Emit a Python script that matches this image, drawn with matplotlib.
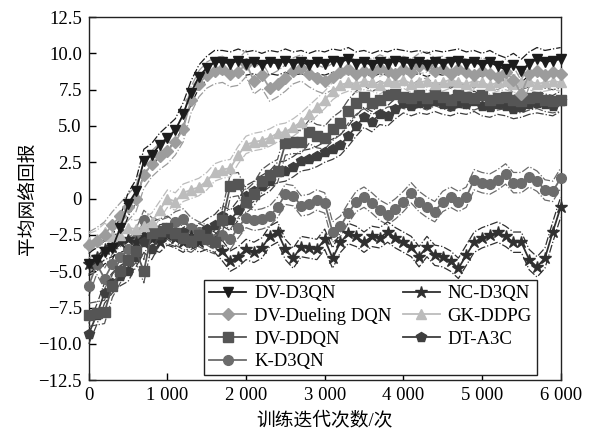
import numpy as np
import matplotlib
matplotlib.use("Agg")
import matplotlib.pyplot as plt

plt.rcParams['font.family'] = ['Liberation Serif', 'Noto Sans CJK SC']
plt.rcParams['axes.unicode_minus'] = True

iterations = list(range(0, 6001, 100))

dv_d3qn = [-4.5, -4.2, -3.7, -3.4, -2.0, -0.4, 0.5, 2.6, 3.0, 3.7,
           4.2, 4.7, 5.8, 7.3, 8.4, 9.0, 9.4, 9.4, 9.3, 9.5,
           9.3, 9.4, 9.2, 9.4, 9.3, 9.5, 9.3, 9.4, 9.2, 9.4,
           9.3, 9.5, 9.4, 9.6, 9.3, 9.4, 9.2, 9.4, 9.3, 9.5,
           9.4, 9.3, 9.4, 9.2, 9.4, 9.3, 9.4, 9.5, 9.3, 9.4,
           9.2, 9.4, 9.1, 8.9, 9.2, 8.8, 9.3, 9.6, 9.4, 9.5, 9.6]
dv_dueling = [-3.2, -2.9, -2.5, -1.8, -1.2, -0.6, 0.0, 1.6, 2.4, 2.9,
              3.3, 3.9, 4.8, 6.8, 7.9, 8.5, 8.8, 8.9, 8.6, 8.7,
              9.3, 8.1, 8.5, 7.6, 7.9, 8.3, 8.8, 9.0, 8.6, 8.3,
              8.1, 8.4, 8.7, 8.9, 8.6, 8.8, 8.7, 9.0, 8.8, 8.6,
              8.9, 8.7, 9.1, 9.2, 8.8, 8.9, 8.6, 8.9, 8.7, 8.5,
              8.8, 8.6, 8.4, 8.7, 8.2, 7.2, 8.6, 8.8, 8.5, 8.7, 8.6]
dv_ddqn = [-8.0, -7.9, -7.8, -6.0, -5.0, -4.2, -3.6, -5.0, -2.4, -2.2,
           -2.0, -2.4, -2.7, -2.9, -2.5, -2.8, -3.0, -1.5, 0.9, 1.0,
           -0.2, 0.3, 1.2, 1.6, 1.9, 3.8, 3.9, 3.9, 4.6, 4.3,
           4.2, 4.8, 5.2, 6.0, 6.6, 7.0, 6.6, 6.8, 7.1, 7.2,
           7.0, 6.9, 7.1, 6.9, 7.2, 7.0, 6.8, 7.1, 7.0, 6.9,
           7.1, 6.8, 6.9, 7.0, 6.8, 6.7, 6.9, 7.0, 6.8, 6.7, 6.8]
k_d3qn = [-6.0, -4.5, -5.5, -4.5, -4.0, -3.5, -2.8, -1.5, -2.0, -2.2,
          -2.0, -1.6, -1.4, -2.0, -2.3, -2.5, -2.8, -2.5, -2.8, -2.0,
          -1.3, -1.5, -1.4, -1.2, -0.6, 0.3, 0.2, -0.5, -0.4, -0.1,
          -0.3, -2.3, -1.9, -1.0, -0.2, 0.1, -0.3, -0.8, -1.1, -0.7,
          -0.2, 0.4, -0.2, -0.6, -0.9, -0.2, 0.1, -0.2, 0.1, 1.3,
          1.1, 1.0, 1.3, 1.7, 1.1, 1.1, 1.5, 1.2, 0.6, 0.5, 1.4]
nc_d3qn = [-4.5, -4.0, -3.5, -3.3, -3.0, -2.8, -3.0, -2.5, -2.8, -3.0,
           -2.5, -2.7, -3.0, -2.6, -3.0, -2.8, -3.0, -3.6, -4.3, -4.0,
           -3.5, -3.7, -3.4, -2.6, -2.3, -3.5, -4.1, -3.3, -3.4, -3.5,
           -2.8, -4.1, -3.0, -2.4, -2.6, -3.0, -2.6, -2.7, -2.3, -2.7,
           -3.0, -3.3, -4.0, -3.3, -3.9, -4.0, -4.3, -4.8, -3.9, -3.0,
           -2.7, -2.5, -2.3, -2.6, -3.0, -3.0, -4.2, -4.7, -4.1, -2.3, -0.6]
gk_ddpg = [-3.0, -2.8, -2.3, -2.6, -2.5, -2.0, -2.1, -1.9, -1.6, -0.8,
           0.0, -0.2, 0.4, 0.6, 0.8, 1.2, 1.8, 2.0, 2.1, 3.0,
           3.7, 3.9, 4.0, 4.2, 4.5, 4.6, 4.9, 5.3, 5.8, 6.3,
           6.8, 7.4, 7.8, 8.0, 7.9, 8.1, 8.0, 7.8, 8.1, 8.0,
           8.2, 7.9, 8.0, 8.1, 7.9, 8.0, 8.2, 8.0, 7.9, 8.1,
           8.0, 7.8, 8.0, 8.1, 7.9, 8.0, 8.1, 7.9, 8.0, 8.1, 8.0]
dt_a3c = [-9.3, -8.0, -6.5, -5.8, -5.3, -5.0, -4.0, -3.0, -3.5, -2.5,
          -2.4, -2.6, -2.3, -2.8, -2.5, -2.1, -1.8, -1.2, -1.5, -0.8,
          0.2, 0.5, 0.9, 1.2, 1.8, 1.9, 2.2, 2.6, 2.7, 2.9,
          3.2, 3.4, 3.7, 4.3, 5.0, 5.6, 5.3, 5.8, 5.7, 6.2,
          6.6, 6.4, 6.6, 6.5, 6.7, 6.5, 6.4, 6.6, 6.5, 6.7,
          6.4, 6.3, 6.5, 6.4, 6.2, 6.3, 6.5, 6.6, 6.5, 6.4, 6.7]

series_names = ['DV-D3QN', 'DV-Dueling DQN', 'DV-DDQN', 'K-D3QN',
                'NC-D3QN', 'GK-DDPG', 'DT-A3C']
series_values = [dv_d3qn, dv_dueling, dv_ddqn, k_d3qn, nc_d3qn, gk_ddpg, dt_a3c]
band_widths = [0.8, 0.9, 0.8, 0.7, 0.7, 0.6, 0.7]

x_ticks = [0, 1000, 2000, 3000, 4000, 5000, 6000]
x_tick_labels = ['0', '1 000', '2 000', '3 000', '4 000', '5 000', '6 000']
y_ticks = [12.5, 10.0, 7.5, 5.0, 2.5, 0, -2.5, -5.0, -7.5, -10.0, -12.5]
y_tick_labels = ['12.5', '10.0', '7.5', '5.0', '2.5', '0', '\u22122.5',
                 '\u22125.0', '\u22127.5', '\u221210.0', '\u221212.5']

styles = {
    'DV-D3QN': dict(color='#1c1c1c', marker='v', ms=7.5),
    'DV-Dueling DQN': dict(color='#9c9c9c', marker='D', ms=6),
    'DV-DDQN': dict(color='#555555', marker='s', ms=6.5),
    'K-D3QN': dict(color='#6c6c6c', marker='o', ms=7),
    'NC-D3QN': dict(color='#303030', marker='*', ms=9),
    'GK-DDPG': dict(color='#bcbcbc', marker='^', ms=7.5),
    'DT-A3C': dict(color='#3e3e3e', marker='p', ms=7.5),
}
draw_order = ['K-D3QN', 'NC-D3QN', 'DT-A3C', 'DV-DDQN', 'GK-DDPG',
              'DV-Dueling DQN', 'DV-D3QN']

fig = plt.figure(figsize=(5.92, 4.37), dpi=100)
ax = fig.add_axes([0.150, 0.130, 0.797, 0.831])

x = np.array(iterations)
handles = {}
for z, name in enumerate(draw_order):
    idx = series_names.index(name)
    y = np.array(series_values[idx])
    bw = band_widths[idx]
    st = styles[name]
    ax.plot(x, y + bw, color=st['color'], lw=0.9, ls='-.', zorder=2 + z, clip_on=False)
    ax.plot(x, y - bw, color=st['color'], lw=0.9, ls='-.', zorder=2 + z, clip_on=False)
    h, = ax.plot(x, y, color=st['color'], lw=1.3, marker=st['marker'],
                 ms=st['ms'], mec=st['color'], mfc=st['color'],
                 zorder=10 + z, clip_on=False, label=name)
    handles[name] = h

ax.set_xlim(0, 6000)
ax.set_ylim(-12.5, 12.5)
ax.set_xticks(x_ticks)
ax.set_xticklabels(x_tick_labels)
ax.set_yticks(y_ticks)
ax.set_yticklabels(y_tick_labels)
ax.tick_params(direction='in', length=5, width=1, labelsize=13.5,
               top=False, right=False, pad=5)
for sp in ax.spines.values():
    sp.set_linewidth(1.0)
    sp.set_color('#222222')

ax.set_xlabel('训练迭代次数/次', fontsize=13.5, labelpad=6)
ax.set_ylabel('平均网络回报', fontsize=13.5, labelpad=1)

leg = ax.legend([handles[n] for n in series_names], series_names, ncol=2,
                loc='lower right', bbox_to_anchor=(0.949, 0.014),
                borderaxespad=0, fontsize=13.5, numpoints=1,
                handlelength=2.0, handletextpad=0.4, columnspacing=0.6,
                labelspacing=0.3, borderpad=0.25, fancybox=False,
                framealpha=1, edgecolor='#222222')
leg.get_frame().set_linewidth(1.0)
leg.set_zorder(50)

fig.savefig('out.png', dpi=100)
